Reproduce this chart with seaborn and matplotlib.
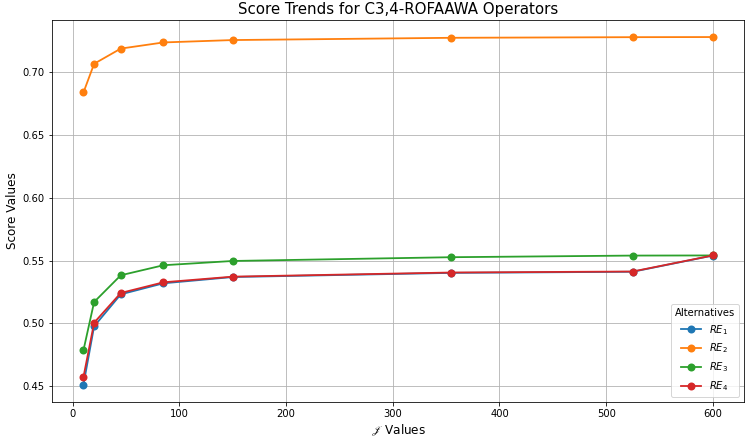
import numpy as np
import pandas as pd
import seaborn as sns
import matplotlib
matplotlib.use("Agg")
import matplotlib.pyplot as plt

# J parameter values
j_values = [10, 20, 45, 85, 150, 355, 525, 600]

# score values for each alternative
re1_scores = [0.4511, 0.4976, 0.5231, 0.5319, 0.5369, 0.5402, 0.5411, 0.5540]
re2_scores = [0.6840, 0.7069, 0.7190, 0.7239, 0.7258, 0.7276, 0.7281, 0.7282]
re3_scores = [0.4785, 0.5170, 0.5383, 0.5463, 0.5497, 0.5527, 0.5540, 0.5541]
re4_scores = [0.4572, 0.5005, 0.5242, 0.5327, 0.5372, 0.5405, 0.5413, 0.5541]

labels = ["$RE_1$", "$RE_2$", "$RE_3$", "$RE_4$"]
series = [re1_scores, re2_scores, re3_scores, re4_scores]

rows = []
for lab, vals in zip(labels, series):
    for j, v in zip(j_values, vals):
        rows.append((lab, j, v))
df = pd.DataFrame(rows, columns=["alt", "J", "score"])

fig, ax = plt.subplots(figsize=(748 / 72, 437 / 72), dpi=72)
sns.lineplot(data=df, x="J", y="score", hue="alt", hue_order=labels,
             palette=sns.color_palette("tab10", 4), marker="o",
             markersize=8, markeredgewidth=0, linewidth=1.8, ax=ax)

ax.set_title("Score Trends for C3,4-ROFAAWA Operators", fontsize=15)
ax.set_xlabel(r"$\mathscr{J}$ Values", fontsize=12)
ax.set_ylabel("Score Values", fontsize=12)
ax.grid(True)
ax.legend(title="Alternatives", loc="lower right")

fig.subplots_adjust(left=0.0695, right=0.995, top=0.955, bottom=0.08)
fig.savefig("out.png", dpi=72)
